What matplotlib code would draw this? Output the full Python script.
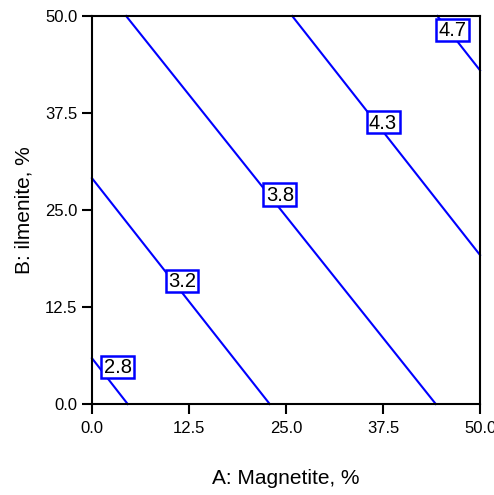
import matplotlib
matplotlib.use('Agg')
import matplotlib.pyplot as plt
from matplotlib.patches import Rectangle

plt.rcParams['font.family'] = ['Liberation Sans', 'DejaVu Sans']

# contour levels with the two end points of each (straight) contour line
levels = ['2.8', '3.2', '3.8', '4.3', '4.7']
x_start = [0.0, 0.0, 4.4, 25.8, 44.5]
y_start = [5.9, 29.1, 50.0, 50.0, 50.0]
x_end = [4.6, 22.9, 44.3, 50.0, 50.0]
y_end = [0.0, 0.0, 0.0, 19.2, 43.0]
# centres of the label boxes
label_x = [3.35, 11.6, 24.2, 37.5, 46.5]
label_y = [4.75, 15.85, 27.0, 36.3, 48.2]

ticks = [0.0, 12.5, 25.0, 37.5, 50.0]

fig = plt.figure(figsize=(4.94, 4.95), dpi=100)
ax = fig.add_axes([0.1862, 0.1838, 0.7855, 0.7839])

box_w, box_h = 4.25, 2.84
for lev, x0, y0, x1, y1, lx, ly in zip(levels, x_start, y_start, x_end, y_end, label_x, label_y):
    ax.plot([x0, x1], [y0, y1], color='#0000ff', lw=1.5, zorder=2, clip_on=False)
    ax.add_patch(Rectangle((lx - box_w / 2, ly - box_h / 2), box_w, box_h, fc='white',
                           ec='#0000ff', lw=1.8, zorder=3, clip_on=False))
    ax.text(lx, ly - 0.1, lev, ha='center', va='center', fontsize=14.5, zorder=4)

ax.set_xlim(0, 50)
ax.set_ylim(0, 50)
ax.set_xticks(ticks)
ax.set_yticks(ticks)
ax.set_xticklabels(['%.1f' % t for t in ticks])
ax.set_yticklabels(['%.1f' % t for t in ticks])
ax.tick_params(direction='out', length=7.5, width=1.5, labelsize=12)
ax.tick_params(axis='x', pad=5)
ax.tick_params(axis='y', pad=3)
for s in ax.spines.values():
    s.set_linewidth(1.5)

ax.set_xlabel('A: Magnetite, %', fontsize=15, va='center')
ax.set_ylabel('B: ilmenite, %', fontsize=15, va='center')
ax.xaxis.set_label_coords(0.5, -0.193)
ax.yaxis.set_label_coords(-0.175, 0.5)

fig.savefig('out.png', dpi=100)
